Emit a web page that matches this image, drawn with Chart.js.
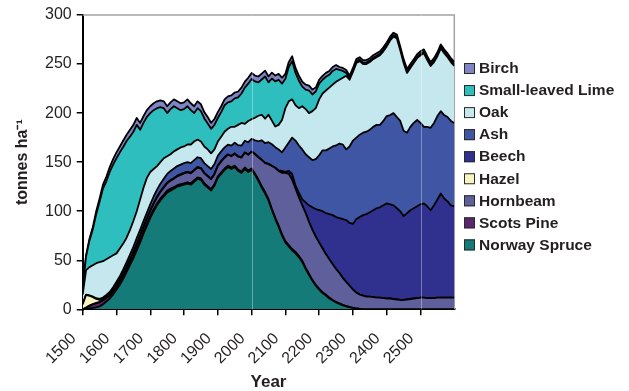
<!DOCTYPE html>
<html><head><meta charset="utf-8">
<script src="https://cdn.jsdelivr.net/npm/chart.js@4.4.1/dist/chart.umd.min.js"></script>
<style>html,body{margin:0;padding:0;background:#fff;}#wrap{width:629px;height:391px;position:relative;}</style>
</head><body><div id="wrap"><canvas id="c" width="629" height="391"></canvas></div>
<script>
const years = [1500,1510,1520,1530,1540,1550,1560,1570,1580,1590,1600,1610,1620,1630,1640,1650,1660,1670,1680,1690,1700,1710,1720,1730,1740,1750,1760,1770,1780,1790,1800,1810,1820,1830,1840,1850,1860,1870,1880,1890,1900,1910,1920,1930,1940,1950,1960,1970,1980,1990,2000,2010,2020,2030,2040,2050,2060,2070,2080,2090,2100,2110,2120,2130,2140,2150,2160,2170,2180,2190,2200,2210,2220,2230,2240,2250,2260,2270,2280,2290,2300,2310,2320,2330,2340,2350,2360,2370,2380,2390,2400,2410,2420,2430,2440,2450,2460,2470,2480,2490,2500,2510,2520,2530,2540,2550,2560,2570,2580,2590,2600];
const tickYears = [1500,1600,1700,1800,1900,2000,2100,2200,2300,2400,2500];

const norwaySpruce = [0,0.5,1,1.5,2,3,5,8,11,15,20,25,31,38,45,52,60,68,77,85,93,100,106,111,115,119,121,123,125,126,127,128,127,130,133,132,127,124,121,126,134,138,142,145,143,145,141,139,143,140,142,137,131,124,118,111,101,92,84,75,68,64,60,57,53,48,41,35,29,24,20,16.5,14,11,9,7,5.5,4,3,2,1.5,0.8,0.3,0,0,0,0,0,0,0,0,0,0,0,0,0,0,0,0,0,0,0,0,0,0,0,0,0,0,0,0];
const scotsPine = [0,1,2.5,3.5,4,4,4,3.5,3,3,2.5,2.5,2.5,2,2,2,2,2,2,2,2,2,2,2,2,2,2,1.5,1.5,1.5,1.5,1.5,1.5,1.5,1.5,1.5,1.5,1.5,1.5,1.5,1.5,1.5,1.5,1.5,1.5,1.5,1.5,1.5,1.5,1.5,1.5,1.5,1.5,1.5,1.5,1.5,1.5,1.5,1.5,1.5,1.5,1.5,1.5,1.5,1.5,1.5,1.5,1,1,1,1,1,1,1,0.5,0.5,0.5,0.5,0.5,0.5,0,0,0,0,0,0,0,0,0,0,0,0,0,0,0,0,0,0,0,0,0,0,0,0,0,0,0,0,0,0,0];
const hornbeam = [0,0.2,0.3,0.4,0.5,0.6,0.8,1,1.2,1.5,2,2.3,2.6,3,3.3,3.6,4,4.5,4.5,5,5,5.5,6,6.5,7,7.5,8,8.5,9,9.5,10,10,10,10,10,10,10,10,10,10,10.5,11,11,11,11.5,12,13,14,15,16,17,19.5,22.5,26.5,29.5,35.5,43.5,50.5,55.5,62.5,69.5,72.5,70.5,64.5,59.5,56.5,55.5,53,51,49,47,44.5,41,39,36.5,33.5,31,27.5,24.5,21.5,18.5,16.2,14.7,14,13,13,12.5,12,12,11.5,11,11,10.5,10,9.5,9.5,10,10.5,11,11.5,12,12,11.5,11.5,11.5,12,12,12,12,12,12];
const hazel = [5,13,10,7,4,2,1,0.6,0.5,0.5,0.5,0.5,0.5,0.5,0.5,0.5,0.5,0.5,0.5,0.5,0.5,0.5,0.5,0.5,0.5,0.5,0.5,0.5,0.5,0.5,0.5,0.5,0.5,0.5,0.5,0.5,0.5,0.5,0.5,0.5,0.5,0.5,0.5,0.3,0.3,0.3,0.3,0.3,0.3,0.3,0.3,0.3,0.3,0.3,0.3,0.3,0.3,0.3,0,0,0,0,0,0,0,0,0,0,0,0,0,0,0,0,0,0,0,0,0,0,0,0,0,0,0,0,0,0,0,0,0,0,0,0,0,0,0,0,0,0,0,0,0,0,0,0,0,0,0,0,0];
const beech = [0,0,0,0,0,0,0,0,0,0,0,0,0,0,0,0,0,0,0,0,0,0,0,0,0,0,0,0,0,0,0,0,0,0,0,0,0,0,0,0,0,0,0,0,0,0,0,0,0,0,0,0,0,0,0,0,0,0,0.5,2,1,3,6,3,5,6,11,17,23,28,33,38,42,46,50,53,56,60,63,64,67,75,79,82,84,86,88.5,91,92,94.5,97,96,95.5,93,90.5,85.5,88,90.5,92,93.5,95,96,93.5,89.5,94.5,100,106,101,98,94,93];
const ash = [0,0.3,0.5,0.6,0.8,1,1.2,1.5,2,2.5,3,3.5,4,4.5,5,5.5,6,6,6,6,6.5,7,7.5,8,8.5,9,9.5,10,10,10,10,10,10,10,10,10,10,10,10,10,10,10,10,10,10.5,11,11.5,12,12,12.5,13,14,16,20,20,22,22,21,21.5,19,25,29,37,46,48,51,49,49,48,51,56,62,64,67,70,73,76,76,72,78,85,83,84,84,84,84,85,85,84,86,89,91,94,93,92,87,82,85,87,88,83,78,81,84,84,85,84,85,86,86,85];
const oak = [10,25,28.7,32,35.7,37.4,37,36.4,35.3,32.5,29,28.2,26.4,25,25.2,26.4,27.5,31,34,35.5,33,28,24,22,21,18,17,17.5,17,17.5,17,18,19,19,18,17,17,17,16,15,14.5,15,16,16.2,19.2,16.2,20.7,23.2,17.2,21.7,20,23,26,26,25,28,24,21,25,33,40,42,39,36,38,44,46,45,50,52,57,58,61,62,63,65,65,68,75,68,70,76,75,70,69,69,69,69,71,71,71,76,78,80,72,69,61,60,61,63,69,75,68,63,62,61,64,63,61,60,58];
const smallLeavedLime = [8,14,27,36.5,50,61.5,74,79.5,87,92.5,97,98,98.5,98.5,95,91,88,71,66,62,60,60,59,56,51,44,46,46,42,38,38,39,35,29,32,31,28.5,26.5,25,25,24,25,27,27,26,29,28,30,37,38,41,37,34,36,43,33,43,46,46,37,30,35,39,33,28,20,20,23,17,17,16,14,14,13,14,13,10,7,3,1.5,1.5,1.5,1.5,1.5,1.5,1.5,1.5,1.5,1.5,1.5,1.5,1.5,1.5,1.5,1.5,1.5,1.5,1.5,1.5,1.5,1.5,1.5,1.5,1.5,1.5,1.5,1.5,1.5,1.5,1.5,1.5];
const birch = [1,1,2,2.5,3,3.5,4,4.5,5,5.5,6,6,6.5,6.5,7,7,7,7,7,7,7,7,7,7,7,7,7,7,7,7,7,7,7,7,7,7,6.5,6.5,6,6,6,6,6,6,6,6,6,6,6,6,6,6,6,6,6,6,6,6,6,6,5,5,5,5,5,5,5,5,5,4,4,4,4,4,4,4,3,3,3,2.5,2.5,2.5,2.5,2.5,2.5,2.5,2.5,2.5,2.5,2.5,2.5,2.5,2.5,2.5,2.5,2.5,2.5,2.5,2.5,2.5,2.5,2.5,2.5,2.5,2.5,2.5,2.5,2.5,2.5,2.5,2.5];

const seriesNames = ['Norway Spruce','Scots Pine','Hornbeam','Hazel','Beech','Ash','Oak','Small-leaved Lime','Birch'];
const seriesData = [norwaySpruce, scotsPine, hornbeam, hazel, beech, ash, oak, smallLeavedLime, birch];
const seriesColors = ['#147B78','#5B2670','#5F5F9B','#F8F5C2','#30308E','#3F56A5','#C5E7EE','#2EBEBD','#7E84C4'];

const FONT = '"Liberation Sans", Arial, Helvetica, sans-serif';

const datasets = seriesNames.map((name, i) => ({
  label: name,
  data: seriesData[i],
  backgroundColor: seriesColors[i],
  borderColor: '#000',
  borderWidth: 1.8,
  pointRadius: 0,
  tension: 0,
  fill: i === 0 ? 'origin' : '-1'
}));

const framePlugin = {
  id: 'frame',
  beforeDatasetsDraw(chart) {
    const {ctx, chartArea: a} = chart;
    ctx.save();
    ctx.strokeStyle = '#A3A3A3';
    ctx.lineWidth = 1.5;
    ctx.beginPath();
    ctx.moveTo(a.left, a.top);
    ctx.lineTo(a.right, a.top);
    ctx.lineTo(a.right, a.bottom);
    ctx.stroke();
    ctx.restore();
  },
  afterDatasetsDraw(chart) {
    const {ctx, chartArea: a} = chart;
    const xs = chart.scales.x;
    ctx.save();
    ctx.strokeStyle = 'rgba(255,255,255,0.35)';
    ctx.lineWidth = 1;
    [2000, 2500].forEach(v => {
      const x = Math.round(xs.getPixelForValue(v)) + 0.5;
      ctx.beginPath(); ctx.moveTo(x, a.top); ctx.lineTo(x, a.bottom); ctx.stroke();
    });
    ctx.restore();
  }
};

const legendPlugin = {
  id: 'sideLegend',
  afterDraw(chart) {
    const ctx = chart.ctx;
    const ds = chart.data.datasets;
    ctx.save();
    ctx.font = 'bold 15.5px ' + FONT;
    ctx.textBaseline = 'middle';
    ctx.textAlign = 'left';
    for (let k = 0; k < ds.length; k++) {
      const d = ds[ds.length - 1 - k];
      const y = 68.5 + k * 22.05;
      ctx.fillStyle = d.backgroundColor;
      ctx.fillRect(464, y - 5.5, 11, 11);
      ctx.strokeStyle = '#2a2a2a';
      ctx.lineWidth = 1;
      ctx.strokeRect(464.5, y - 5, 10, 10);
      ctx.fillStyle = '#231f20';
      ctx.fillText(d.label, 479, y + 0.5);
    }
    ctx.restore();
  }
};

new Chart(document.getElementById('c'), {
  type: 'line',
  data: { labels: years, datasets },
  plugins: [framePlugin, legendPlugin],
  options: {
    responsive: false,
    animation: false,
    devicePixelRatio: 1,
    layout: { padding: { top: 15, right: 174.7, left: 0, bottom: 0 } },
    plugins: { legend: { display: false }, tooltip: { enabled: false } },
    elements: { line: { borderJoinStyle: 'round' } },
    scales: {
      x: {
        type: 'linear',
        min: 1500, max: 2600,
        afterBuildTicks: s => { s.ticks = tickYears.map(v => ({ value: v })); },
        afterFit: s => { s.height = 81.7; },
        border: { display: true, color: '#000', width: 2 },
        grid: { display: true, drawOnChartArea: false, drawTicks: true, tickLength: 6, color: '#000', lineWidth: 1.5 },
        ticks: { autoSkip: false, maxRotation: 45, minRotation: 45, padding: 14, labelOffset: -9, color: '#231f20', font: { family: FONT, size: 16 }, callback: v => String(v) },
        title: { display: true, text: 'Year', color: '#231f20', font: { family: FONT, size: 17, weight: 'bold', lineHeight: 1 }, padding: { top: 0, bottom: 0 } }
      },
      y: {
        stacked: true,
        min: 0, max: 300,
        afterFit: s => { s.width = 82.7; },
        border: { display: true, color: '#000', width: 2 },
        grid: { display: true, drawOnChartArea: false, drawTicks: true, tickLength: 6, color: '#000', lineWidth: 1.5 },
        ticks: { stepSize: 50, padding: 5, color: '#231f20', font: { family: FONT, size: 16 } },
        title: { display: true, text: 'tonnes ha⁻¹', color: '#231f20', font: { family: FONT, size: 16, weight: 'bold', lineHeight: 1 }, padding: { top: 15, bottom: 0 } }
      }
    }
  }
});
</script></body></html>
